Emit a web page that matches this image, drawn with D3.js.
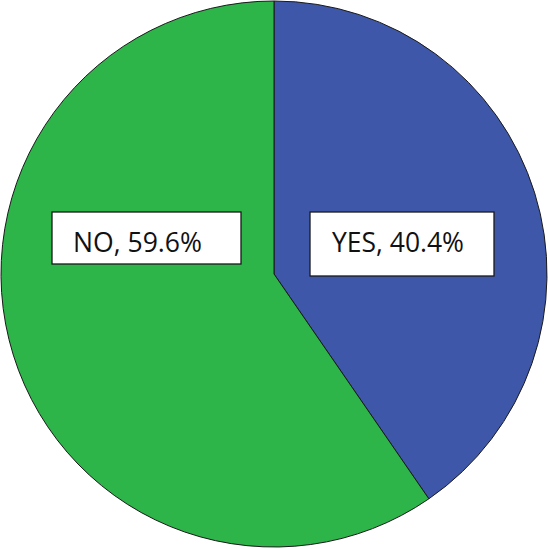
<!DOCTYPE html>
<html><head><meta charset="utf-8">
<script src="https://cdn.jsdelivr.net/npm/d3@7"></script>
<style>html,body{margin:0;padding:0;background:#fff;}svg{display:block;}</style>
</head><body>
<script>
const categories = ["YES", "NO"];
const values = [40.4, 59.6];
const colors = ["#3e57a9", "#2db54a"];
const labelText = ["YES, 40.4%", "NO, 59.6%"];

const W = 548, H = 549;
const cx = 274, cy = 274, R = 273;
const svg = d3.select("body").append("svg").attr("width", W).attr("height", H);
const g = svg.append("g").attr("transform", `translate(${cx},${cy})`);

const pie = d3.pie().sort(null).value(d => d);
const arcs = pie(values);
const arc = d3.arc().innerRadius(0).outerRadius(R);

g.selectAll("path").data(arcs).enter().append("path")
  .attr("d", arc)
  .attr("fill", (d, i) => colors[i])
  .attr("stroke", "#1a1a1a")
  .attr("stroke-width", 1);

// label boxes (layout offsets relative to center)
const boxes = [
  {x: 310 - cx, y: 212 - cy, w: 184, h: 64},
  {x: 52 - cx, y: 212 - cy, w: 189, h: 52}
];
const textPos = [
  {x: 332 - cx, y: 252 - cy, len: 132},
  {x: 73 - cx, y: 252 - cy, len: 129}
];
const lg = g.selectAll("g.lab").data(arcs).enter().append("g").attr("class", "lab");
lg.append("rect")
  .attr("x", (d, i) => boxes[i].x).attr("y", (d, i) => boxes[i].y)
  .attr("width", (d, i) => boxes[i].w).attr("height", (d, i) => boxes[i].h)
  .attr("fill", "#fff").attr("stroke", "#1a1a1a").attr("stroke-width", 1.3);
lg.append("text")
  .attr("x", (d, i) => textPos[i].x).attr("y", (d, i) => textPos[i].y)
  .attr("font-family", "'Open Sans', 'Noto Sans', sans-serif")
  .attr("font-size", 28)
  .attr("fill", "#111")
  .attr("textLength", (d, i) => textPos[i].len)
  .attr("lengthAdjust", "spacingAndGlyphs")
  .text((d, i) => labelText[i]);
</script>
</body></html>
